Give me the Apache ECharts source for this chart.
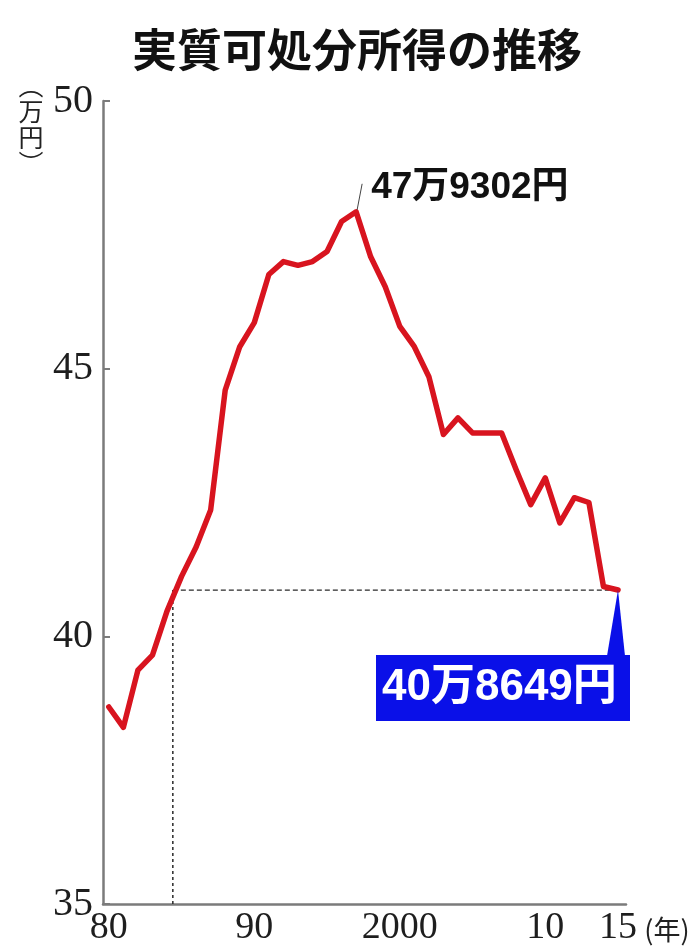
<!DOCTYPE html>
<html>
<head>
<meta charset="utf-8">
<script src="https://cdn.jsdelivr.net/npm/echarts@6/dist/echarts.min.js"></script>
<style>
  html, body { margin: 0; padding: 0; background: #ffffff; }
  #chart { width: 699px; height: 947px; }
</style>
</head>
<body>
<div id="chart"></div>
<script>
// Real disposable income per household (万円), 1980–2015
const years = [
  1980, 1981, 1982, 1983, 1984, 1985, 1986, 1987, 1988, 1989,
  1990, 1991, 1992, 1993, 1994, 1995, 1996, 1997, 1998, 1999,
  2000, 2001, 2002, 2003, 2004, 2005, 2006, 2007, 2008, 2009,
  2010, 2011, 2012, 2013, 2014, 2015
];
const income = [
  38.68, 38.30, 39.37, 39.65, 40.47, 41.12, 41.67, 42.36, 44.60, 45.41,
  45.86, 46.76, 47.00, 46.93, 47.00, 47.19, 47.75, 47.9302, 47.09, 46.53,
  45.79, 45.41, 44.85, 43.77, 44.08, 43.80, 43.80, 43.80, 43.11, 42.46,
  42.96, 42.12, 42.59, 42.50, 40.93, 40.8649
];

// Axis labelling
const yTickValues = [35, 40, 45, 50];
const xLabelYears = [1980, 1990, 2000, 2010, 2015];
const xLabelTexts = ['80', '90', '2000', '10', '15'];

// Highlighted points
const peakYear = 1997;
const peakValue = 47.9302;
const latestYear = 2015;
const latestValue = 40.8649;
const sameLevelYear = 1984.4;   // where the curve first reached the latest level

const titleText = '実質可処分所得の推移';
const unitText = '︵\n万\n円\n︶';
const yearUnitText = '(年)';

function manYen(v) {
  const man = Math.floor(v);
  const rest = Math.round((v - man) * 10000);
  return man + '万' + rest + '円';
}

const RED = '#d8141f';
const BLUE = '#0a10e8';
const AXIS_GRAY = '#7b7b7b';
const SERIF = '"Liberation Serif", "DejaVu Serif", serif';
const SANS = '"Liberation Sans", "Noto Sans CJK JP", sans-serif';
const CJK = '"Noto Sans CJK JP", sans-serif';

const chart = echarts.init(document.getElementById('chart'), null, { renderer: 'canvas' });

const option = {
  backgroundColor: '#ffffff',
  animation: false,
  grid: { left: 103, right: 73, top: 101, bottom: 43, containLabel: false },
  xAxis: {
    type: 'value',
    min: 1979.6,
    max: 2015.55,
    splitLine: { show: false },
    axisTick: { show: false },
    axisLine: { show: true, lineStyle: { color: AXIS_GRAY, width: 2.5 } },
    axisLabel: {
      customValues: xLabelYears,
      formatter: v => xLabelTexts[xLabelYears.indexOf(v)],
      fontFamily: SERIF,
      fontSize: 38,
      color: '#1e1e1e',
      margin: 5
    }
  },
  yAxis: {
    type: 'value',
    min: yTickValues[0],
    max: yTickValues[yTickValues.length - 1],
    interval: 5,
    splitLine: { show: false },
    axisLine: { show: true, lineStyle: { color: AXIS_GRAY, width: 2.5 } },
    axisTick: { show: true, inside: true, length: 7, lineStyle: { color: AXIS_GRAY, width: 2 } },
    axisLabel: {
      fontFamily: SERIF,
      fontSize: 40,
      color: '#1e1e1e',
      margin: 10,
      padding: [0, 0, 8, 0]
    }
  },
  series: [
    {
      name: 'sameLevelH',
      type: 'line',
      data: [[sameLevelYear, latestValue], [latestYear, latestValue]],
      symbol: 'none',
      silent: true,
      lineStyle: { color: '#2a2a2a', width: 1.3, type: [5, 3] },
      z: 2
    },
    {
      name: 'sameLevelV',
      type: 'line',
      data: [[sameLevelYear, yTickValues[0]], [sameLevelYear, latestValue]],
      symbol: 'none',
      silent: true,
      lineStyle: { color: '#2a2a2a', width: 1.5, type: [3, 3] },
      z: 2
    },
    {
      name: 'income',
      type: 'line',
      data: years.map((y, i) => [y, income[i]]),
      symbol: 'none',
      lineStyle: { color: RED, width: 5.5, join: 'round', cap: 'round' },
      z: 3
    }
  ]
};

chart.setOption(option);

// Annotations positioned from the data through the chart's own scales
const peakPx = chart.convertToPixel({ gridIndex: 0 }, [peakYear, peakValue]);
const lastPx = chart.convertToPixel({ gridIndex: 0 }, [latestYear, latestValue]);
const gridRect = chart.getModel().getComponent('grid').coordinateSystem.getRect();

chart.setOption({
  graphic: [
    {
      type: 'text',
      x: 357, y: 50,
      style: {
        text: titleText,
        font: 'bold 45px ' + CJK,
        fill: '#111',
        align: 'center',
        verticalAlign: 'middle'
      }
    },
    {
      type: 'text',
      x: 31, y: 72,
      style: {
        text: unitText,
        font: '25px ' + CJK,
        lineHeight: 26,
        fill: '#222',
        align: 'center',
        verticalAlign: 'top'
      }
    },
    {
      type: 'text',
      x: 667, y: gridRect.y + gridRect.height + 26,
      style: {
        text: yearUnitText,
        font: '27px ' + CJK,
        fill: '#222',
        align: 'center',
        verticalAlign: 'middle'
      }
    },
    // Peak annotation
    {
      type: 'line',
      shape: { x1: peakPx[0] + 1, y1: peakPx[1] - 2, x2: peakPx[0] + 6, y2: peakPx[1] - 28 },
      style: { stroke: '#444', lineWidth: 1 },
      z: 5
    },
    {
      type: 'text',
      x: peakPx[0] + 15, y: peakPx[1] - 24,
      style: {
        text: manYen(peakValue),
        font: 'bold 37px ' + SANS,
        fill: '#111',
        align: 'left',
        verticalAlign: 'middle'
      },
      z: 5
    },
    // Latest-value callout
    {
      type: 'polygon',
      shape: {
        points: [
          [lastPx[0], lastPx[1]],
          [lastPx[0] - 11, lastPx[1] + 66],
          [lastPx[0] + 7, lastPx[1] + 66]
        ]
      },
      style: { fill: BLUE },
      z: 5
    },
    {
      type: 'rect',
      shape: { x: lastPx[0] - 242, y: lastPx[1] + 65, width: 254, height: 66 },
      style: { fill: BLUE },
      z: 5
    },
    {
      type: 'text',
      x: lastPx[0] - 236, y: lastPx[1] + 98,
      style: {
        text: manYen(latestValue),
        font: 'bold 44px ' + SANS,
        fill: '#ffffff',
        align: 'left',
        verticalAlign: 'middle'
      },
      z: 6
    }
  ]
});
</script>
</body>
</html>
